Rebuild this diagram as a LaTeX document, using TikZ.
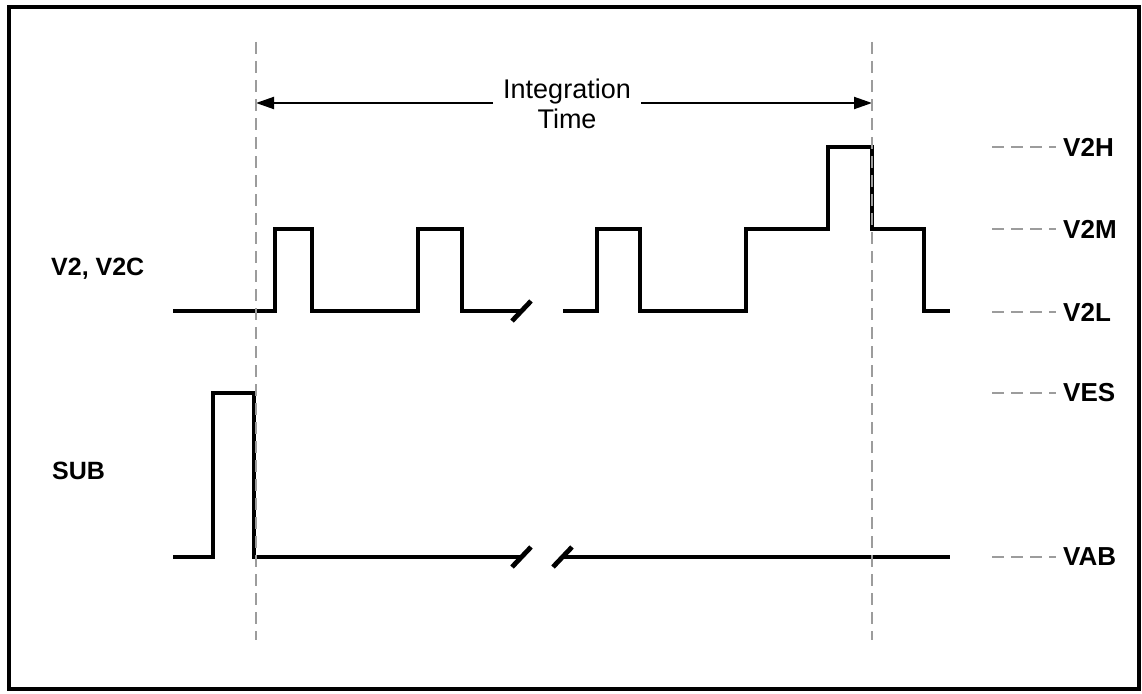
\documentclass[tikz,border=0pt]{standalone}
\usepackage{fontspec}
\setmainfont{Liberation Sans}
\usetikzlibrary{arrows.meta}
\definecolor{guide}{HTML}{9C9C9C}
\begin{document}
\begin{tikzpicture}[x=1pt,y=-1pt,
  wave/.style={line width=4.8pt, line join=miter, line cap=butt},
  brk/.style={line width=4.8pt, line cap=butt},
  guideline/.style={guide, line width=2.2pt, dash pattern=on 12pt off 7pt},
  lvl/.style={font=\fontsize{26}{30}\selectfont\bfseries, anchor=west, inner sep=0pt},
  sig/.style={font=\fontsize{25}{30}\selectfont\bfseries, anchor=west, inner sep=0pt},
  dim/.style={line width=2pt, -{Triangle[length=18pt,width=12pt]}}]
\useasboundingbox (0,0) rectangle (1142,693);
\draw[line width=4pt] (9,7) rectangle (1139,689);

% integration time
\coordinate (tl) at (256,42);
\coordinate (bl) at (256,640);
\coordinate (tr) at (872,42);
\coordinate (br) at (872,640);
\coordinate (al) at (256,103);
\coordinate (ar) at (872,103);
\node[font=\fontsize{27}{30}\selectfont, align=center, inner xsep=10pt, inner ysep=0pt] (it) at (567,104) {Integration\\Time};
\draw[dim] (it.west |- al) -- (al);
\draw[dim] (it.east |- ar) -- (ar);

% signal labels
\node[sig] (v2) at (51,269) {V2, V2C};
\node[sig] (sub) at (52,471) {SUB};

% V2 waveform
\draw[wave] (173,311) -- (275,311) -- (275,229) -- (312,229) -- (312,311) -- (418,311) -- (418,229) -- (462,229) -- (462,311) -- (521,311);
\draw[brk] (512,321) -- (531,301);
\draw[wave] (563,311) -- (597,311) -- (597,229) -- (640,229) -- (640,311) -- (746,311) -- (746,229) -- (828,229) -- (828,147) -- (872,147) -- (872,229) -- (924,229) -- (924,311) -- (950,311);

% SUB waveform
\draw[wave] (173,557) -- (213,557) -- (213,393) -- (254,393) -- (254,557) -- (521,557);
\draw[brk] (512,567) -- (531,547);
\draw[brk] (553,567) -- (572,547);
\draw[wave] (562,557) -- (950,557);

% vertical guides
\draw[guideline] (tl) -- (bl);
\draw[guideline] (tr) -- (br);

% level labels
\foreach \n/\t/\y in {h/V2H/147, m/V2M/229, l/V2L/312, es/VES/393, ab/VAB/557} {
  \node[lvl] (lv\n) at (1063,\y) {\t};
  \coordinate (ls\n) at (992,\y);
  \draw[guideline] (ls\n) -- (lv\n.west -| 1056,\y);
}
\end{tikzpicture}
\end{document}
